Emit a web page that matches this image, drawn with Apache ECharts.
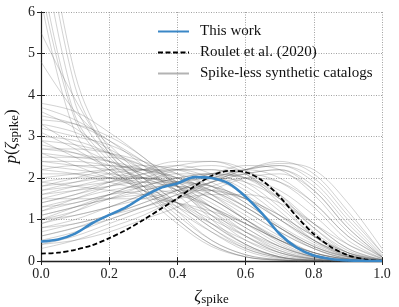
<!DOCTYPE html>
<html>
<head>
<meta charset="utf-8">
<script src="https://cdn.jsdelivr.net/npm/echarts@6/dist/echarts.min.js"></script>
<style>html,body{margin:0;padding:0;background:#fff}#c{width:399px;height:307px}</style>
</head>
<body>
<div id="c"></div>
<script>
// ---- data ----
const xTicks = [0, 0.2, 0.4, 0.6, 0.8, 1.0];
const yTicks = [0, 1, 2, 3, 4, 5, 6];

const fineX = [0,0.05,0.1,0.15,0.2,0.25,0.3,0.35,0.4,0.45,0.5,0.55,0.6,0.65,0.7,0.75,0.8,0.85,0.9,0.95,1.0];
const thisWork = [0.47,0.52,0.66,0.91,1.11,1.30,1.55,1.76,1.87,2.02,2.00,1.87,1.55,1.13,0.65,0.32,0.13,0.05,0.015,0.004,0];
const roulet = [0.18,0.20,0.27,0.38,0.55,0.75,0.99,1.25,1.51,1.80,2.05,2.17,2.14,1.93,1.55,1.07,0.65,0.34,0.14,0.04,0];

const coarseX = [0,0.1,0.2,0.3,0.4,0.5,0.6,0.7,0.8,0.9,1.0];
const synthetic = [
  [8.5,4.2,2.6,1.8,1.1,0.5,0.15,0.03,0,0,0],
  [7.8,3.8,2.5,1.9,1.3,0.7,0.25,0.05,0,0,0],
  [7.0,3.5,2.4,1.7,1.0,0.4,0.1,0.02,0,0,0],
  [9.0,4.5,2.7,2.0,1.4,0.8,0.3,0.08,0.01,0,0],
  [6.6,3.4,2.3,1.6,0.9,0.35,0.1,0.02,0,0,0],
  [5.5,3.9,2.6,1.8,1.0,0.4,0.1,0.02,0,0,0],
  [6.3,3.1,2.2,1.8,1.4,0.9,0.4,0.1,0.02,0,0],
  [4.8,3.6,2.8,2.0,1.2,0.5,0.15,0.03,0,0,0],
  [3.8,3.6,3.1,2.5,1.8,1.1,0.5,0.15,0.03,0,0],
  [3.7,3.4,2.9,2.3,1.6,0.9,0.4,0.1,0.02,0,0],
  [3.5,3.3,2.9,2.4,1.8,1.2,0.6,0.2,0.04,0,0],
  [3.3,3.1,2.7,2.2,1.7,1.1,0.6,0.2,0.05,0,0],
  [3.2,3.0,2.8,2.4,1.9,1.3,0.7,0.25,0.05,0,0],
  [3.6,3.2,2.6,2.0,1.4,0.8,0.35,0.1,0.02,0,0],
  [3.0,2.9,2.6,2.2,1.8,1.3,0.8,0.35,0.1,0.01,0],
  [3.4,3.3,3.0,2.5,1.8,1.0,0.4,0.1,0.01,0,0],
  [2.9,2.8,2.6,2.3,1.9,1.5,1.0,0.5,0.15,0.02,0],
  [2.7,2.7,2.6,2.4,2.1,1.6,1.0,0.45,0.12,0.02,0],
  [2.6,2.5,2.4,2.2,1.9,1.5,1.0,0.55,0.2,0.04,0],
  [2.8,2.6,2.3,2.0,1.7,1.3,0.9,0.5,0.2,0.05,0],
  [2.5,2.5,2.5,2.3,2.0,1.6,1.1,0.6,0.2,0.04,0],
  [2.4,2.4,2.3,2.2,2.0,1.7,1.2,0.7,0.3,0.06,0],
  [2.2,2.3,2.3,2.2,2.0,1.7,1.3,0.8,0.35,0.1,0.01],
  [2.3,2.2,2.1,2.0,1.9,1.7,1.3,0.8,0.35,0.08,0],
  [3.1,2.7,2.2,1.7,1.2,0.7,0.3,0.08,0.01,0,0],
  [2.9,2.5,2.1,1.7,1.3,0.9,0.5,0.2,0.05,0,0],
  [2.0,2.1,2.2,2.2,2.1,1.8,1.3,0.8,0.35,0.1,0.01],
  [1.8,2.0,2.2,2.3,2.2,1.9,1.4,0.85,0.4,0.1,0.01],
  [1.7,1.9,2.1,2.2,2.2,2.0,1.6,1.0,0.45,0.12,0.01],
  [1.6,1.8,2.0,2.2,2.3,2.1,1.7,1.1,0.5,0.15,0.02],
  [1.9,2.0,2.0,2.0,1.9,1.8,1.5,1.0,0.5,0.15,0.02],
  [1.5,1.7,1.9,2.1,2.2,2.2,1.9,1.3,0.6,0.15,0.01],
  [2.1,2.1,2.0,1.9,1.8,1.7,1.5,1.1,0.6,0.2,0.03],
  [1.4,1.6,1.8,2.0,2.2,2.2,2.0,1.5,0.8,0.25,0.03],
  [1.9,1.8,1.7,1.6,1.4,1.1,0.7,0.35,0.1,0.02,0],
  [1.5,1.5,1.5,1.5,1.4,1.2,0.9,0.5,0.2,0.04,0],
  [2.2,2.1,1.9,1.7,1.4,1.0,0.6,0.25,0.06,0,0],
  [1.2,1.4,1.6,1.8,2.0,2.1,2.0,1.6,0.9,0.3,0.03],
  [1.0,1.2,1.5,1.8,2.0,2.1,2.0,1.7,1.1,0.4,0.05],
  [0.9,1.1,1.3,1.6,1.9,2.1,2.2,2.0,1.4,0.6,0.1],
  [1.1,1.3,1.5,1.7,1.9,2.0,2.1,1.9,1.3,0.5,0.06],
  [0.8,1.0,1.3,1.6,1.9,2.1,2.3,2.2,1.6,0.7,0.1],
  [1.3,1.4,1.6,1.7,1.9,2.0,1.9,1.5,0.9,0.3,0.03],
  [0.7,0.9,1.1,1.4,1.7,2.0,2.2,2.3,1.9,1.0,0.15],
  [0.6,0.8,1.1,1.4,1.7,2.0,2.2,2.3,2.0,1.1,0.2],
  [1.0,1.1,1.3,1.5,1.7,1.9,2.1,2.2,1.7,0.8,0.1],
  [0.5,0.7,1.0,1.3,1.6,1.9,2.1,2.2,1.8,0.9,0.12],
  [0.4,0.6,0.9,1.2,1.5,1.9,2.2,2.4,2.1,1.2,0.2],
  [0.6,0.8,1.0,1.3,1.6,1.9,2.2,2.35,2.2,1.4,0.3],
  [0.3,0.5,0.8,1.1,1.5,1.8,2.0,1.9,1.4,0.6,0.08],
  [0.4,0.5,0.7,1.0,1.3,1.7,2.0,2.1,1.7,0.8,0.1],
  [1.2,1.5,1.8,2.1,2.3,2.4,2.2,1.6,0.8,0.2,0.02],
  [1.4,1.6,1.9,2.2,2.4,2.4,2.1,1.4,0.6,0.15,0.01],
  [0.9,1.2,1.6,1.9,2.2,2.3,2.1,1.5,0.7,0.2,0.02],
  [1.6,1.7,1.8,1.9,1.9,1.8,1.5,1.0,0.5,0.12,0.01],
  [1.1,1.3,1.5,1.6,1.7,1.7,1.5,1.1,0.6,0.2,0.03],
  [0.8,0.9,1.1,1.3,1.5,1.6,1.6,1.4,0.9,0.4,0.06],
  [2.6,2.3,2.0,1.8,1.6,1.3,0.9,0.5,0.2,0.04,0],
  [3.3,2.8,2.4,2.1,1.8,1.4,0.9,0.4,0.1,0.01,0],
  [1.3,1.5,1.7,1.8,1.8,1.6,1.2,0.7,0.3,0.06,0],
  [2.7,2.6,2.4,2.1,1.7,1.2,0.7,0.3,0.08,0.01,0],
  [1.8,1.9,2.0,2.0,1.8,1.5,1.0,0.5,0.15,0.02,0],
  [2.4,2.3,2.2,2.0,1.7,1.3,0.8,0.35,0.1,0.01,0],
  [1.7,1.8,1.9,2.0,2.0,1.8,1.4,0.8,0.3,0.05,0],
  [1.0,1.3,1.6,1.9,2.1,2.1,1.8,1.2,0.5,0.1,0.01]
];

// ---- chart ----
const FONT = 'Liberation Serif';
const pair = (xs, ys) => xs.map((x, i) => [x, ys[i]]);
const greyName = 'Spike-less synthetic catalogs';

const series = synthetic.map(ys => ({
  name: greyName, type: 'line', data: pair(coarseX, ys),
  smooth: 0.35, symbol: 'none', clip: true, z: 1, silent: true,
  lineStyle: { color: 'rgba(95,95,95,0.4)', width: 0.7 }, itemStyle: { color: '#b3b3b3' }
}));
series.push({
  name: 'Roulet et al. (2020)', type: 'line', data: pair(fineX, roulet),
  smooth: 0.3, symbol: 'none', z: 3,
  lineStyle: { color: '#000', width: 1.8, type: [5, 2.5] }, itemStyle: { color: '#000' }
});
series.push({
  name: 'This work', type: 'line', data: pair(fineX, thisWork),
  smooth: 0.3, symbol: 'none', z: 4,
  lineStyle: { color: '#3a87c6', width: 2.6 }, itemStyle: { color: '#3a87c6' }
});

const tickStyle = { show: true, inside: true, length: 4, lineStyle: { color: '#222', width: 1 } };
const option = {
  animation: false,
  textStyle: { fontFamily: FONT },
  grid: { left: 41, right: 17, top: 12, bottom: 46, outerBoundsMode: 'none', containLabel: false },
  legend: {
    orient: 'vertical', left: 157, top: 24, padding: 0, itemWidth: 31, itemHeight: 14, itemGap: 6,
    itemStyle: { opacity: 0 },
    formatter: '{a|{name}}',
    textStyle: { fontFamily: FONT, fontSize: 15, color: '#111',
      rich: { a: { fontFamily: FONT, fontSize: 15, color: '#111', padding: [0, 0, 0, 6] } } },
    data: [
      { name: 'This work', itemStyle: { opacity: 0 } },
      { name: 'Roulet et al. (2020)', itemStyle: { opacity: 0 } },
      { name: greyName, itemStyle: { opacity: 0 }, lineStyle: { color: '#b3b3b3', width: 2, opacity: 1 } }
    ]
  },
  xAxis: [{
    type: 'value', min: 0, max: 1, interval: 0.2,
    name: '{z|ζ}{s|spike}', nameLocation: 'middle', nameGap: 26, nameMoveOverlap: false,
    nameTextStyle: { rich: {
      z: { fontFamily: FONT, fontSize: 17, fontStyle: 'italic', color: '#111' },
      s: { fontFamily: FONT, fontSize: 13, color: '#111', verticalAlign: 'bottom', padding: [6, 0, 0, 0] }
    } },
    axisLine: { show: true, lineStyle: { color: '#111', width: 1.4 } },
    axisTick: tickStyle,
    axisLabel: { fontFamily: FONT, fontSize: 14, color: '#222', margin: 6, formatter: v => v.toFixed(1) },
    splitLine: { show: true, lineStyle: { color: '#8a8a8a', type: [1, 1.5], width: 0.8 } }
  }, {
    type: 'value', min: 0, max: 1, interval: 0.2, position: 'top',
    axisLine: { show: true, lineStyle: { color: '#222', width: 1 } },
    axisTick: tickStyle, axisLabel: { show: false }, splitLine: { show: false }
  }],
  yAxis: [{
    type: 'value', min: 0, max: 6, interval: 1,
    name: '{p|p}{t|(}{z|ζ}{s|spike}{t|)}', nameLocation: 'middle', nameGap: 20, nameRotate: 90,
    nameMoveOverlap: false,
    nameTextStyle: { rich: {
      p: { fontFamily: FONT, fontSize: 17, fontStyle: 'italic', color: '#111' },
      t: { fontFamily: FONT, fontSize: 17, color: '#111' },
      z: { fontFamily: FONT, fontSize: 17, fontStyle: 'italic', color: '#111' },
      s: { fontFamily: FONT, fontSize: 13, color: '#111', verticalAlign: 'bottom', padding: [6, 0, 0, 0] }
    } },
    axisLine: { show: true, lineStyle: { color: '#222', width: 1.2 } },
    axisTick: tickStyle,
    axisLabel: { fontFamily: FONT, fontSize: 14, color: '#222', margin: 6, formatter: v => String(v) },
    splitLine: { show: true, lineStyle: { color: '#8a8a8a', type: [1, 1.5], width: 0.8 } }
  }, {
    type: 'value', min: 0, max: 6, interval: 1, position: 'right',
    axisLine: { show: true, lineStyle: { color: '#222', width: 1 } },
    axisTick: tickStyle, axisLabel: { show: false }, splitLine: { show: false }
  }],
  series: series
};
const chart = echarts.init(document.getElementById('c'), null, { renderer: 'canvas' });
chart.setOption(option);
</script>
</body>
</html>
